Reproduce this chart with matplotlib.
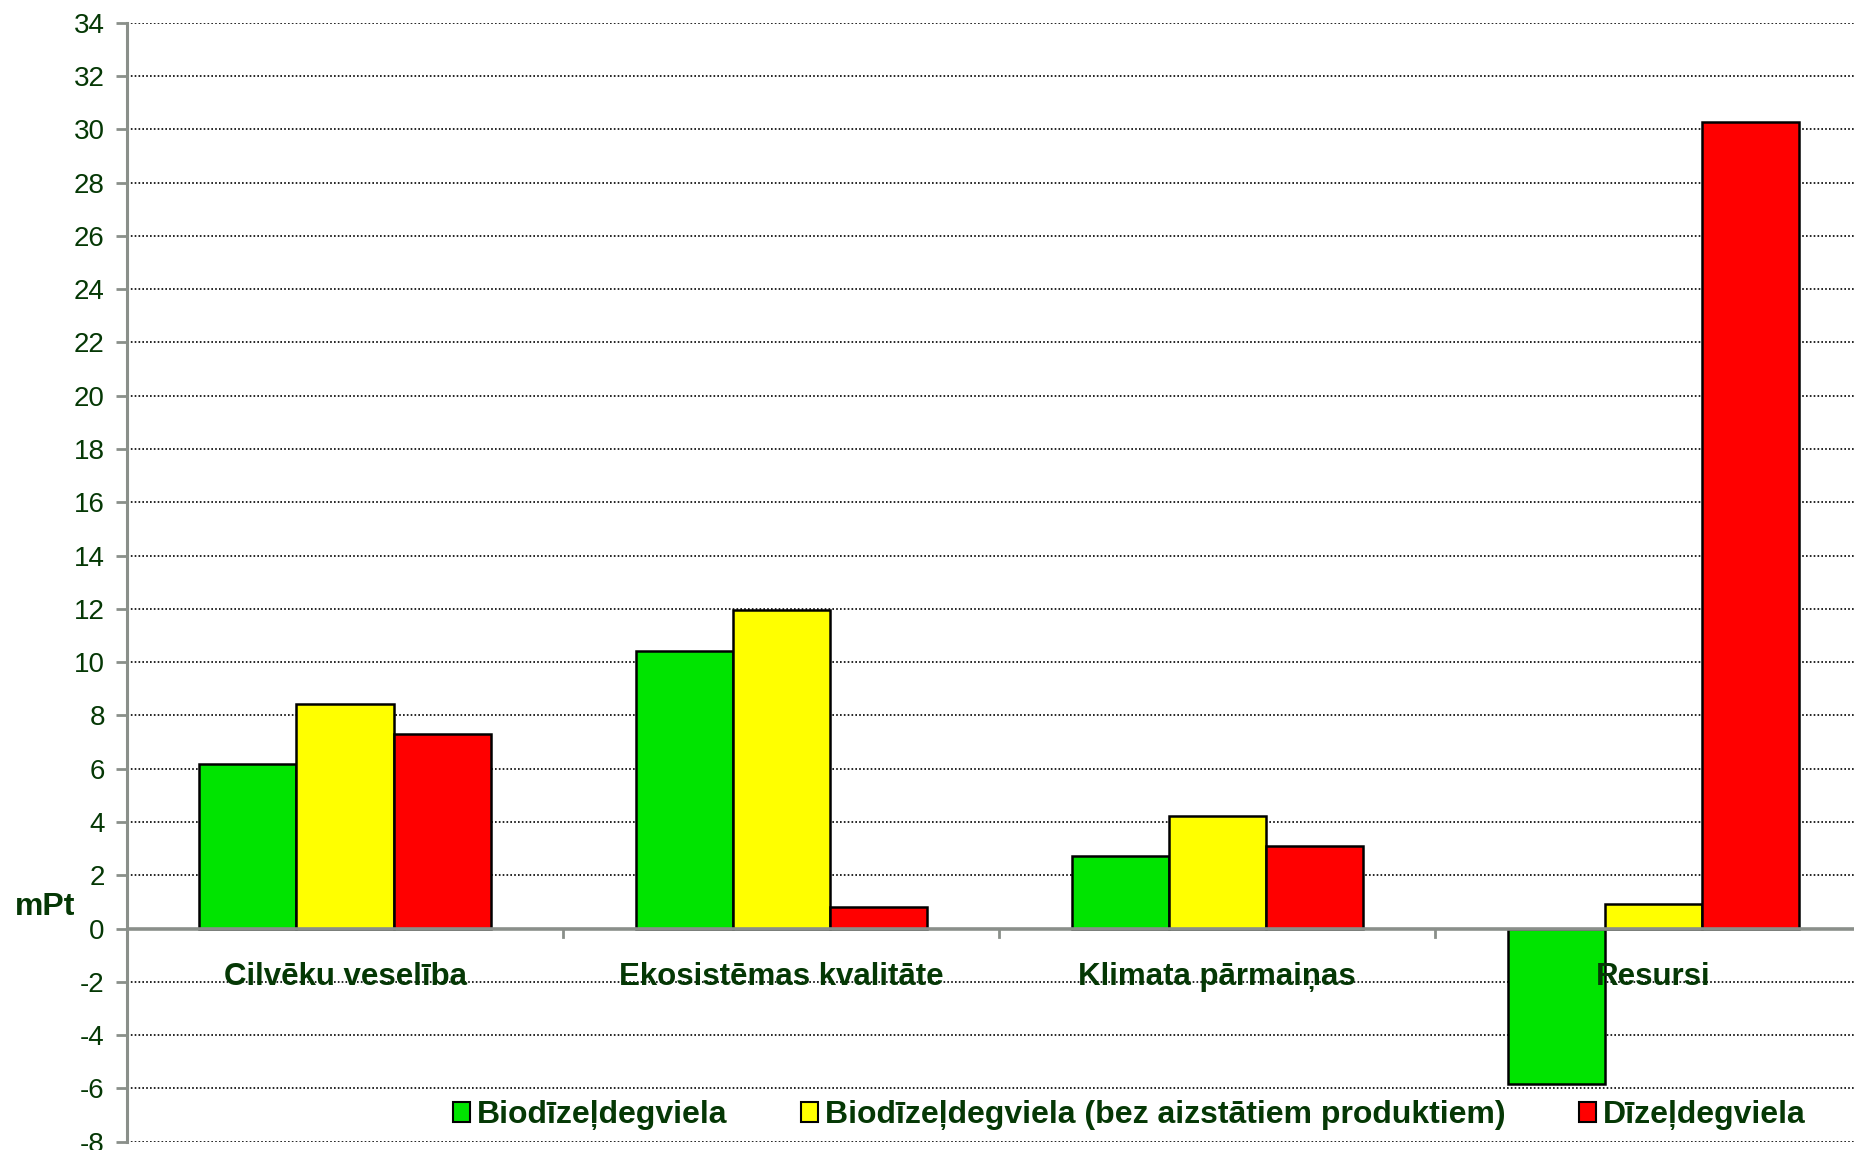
import numpy as np
import matplotlib
matplotlib.use('Agg')
import matplotlib.pyplot as plt
from matplotlib.patches import Patch
from matplotlib import font_manager

# Ietekmes kategorijas un rezultāti (mPt)
categories = ['Cilvēku veselība', 'Ekosistēmas kvalitāte', 'Klimata pārmaiņas', 'Resursi']
series_names = ['Biodīzeļdegviela', 'Biodīzeļdegviela (bez aizstātiem produktiem)', 'Dīzeļdegviela']
biodiesel = [6.19, 10.42, 2.71, -5.84]
biodiesel_no_sub = [8.44, 11.97, 4.21, 0.91]
diesel = [7.29, 0.80, 3.11, 30.28]
yticks = list(range(-8, 35, 2))

colors = ['#00e400', '#ffff00', '#ff0000']
text_color = '#053805'

names = {f.name for f in font_manager.fontManager.ttflist}
base_font = 'Liberation Sans' if 'Liberation Sans' in names else 'DejaVu Sans'
plt.rcParams['font.family'] = [base_font, 'DejaVu Sans']

fig = plt.figure(figsize=(18.54, 11.5), dpi=100)
ax = fig.add_axes([0.0685, 0.0072, 0.9407, 0.973])

x = np.arange(len(categories))
w = 0.2225
for i, (vals, c) in enumerate(zip([biodiesel, biodiesel_no_sub, diesel], colors)):
    ax.bar(x + (i - 1) * w, vals, w, color=c, edgecolor='black', linewidth=1.8, zorder=3)

ax.set_xlim(-0.5, len(categories) - 0.5)
ax.set_ylim(-8, 34)
ax.set_yticks(yticks)
ax.set_yticklabels([str(t) for t in yticks], fontsize=20, color=text_color)
ax.yaxis.grid(True, linestyle=(0, (1, 1.3)), color='black', linewidth=1.2, zorder=0)
ax.tick_params(axis='y', length=8, width=2, color='#8a8f8a', pad=8)

for s in ['top', 'right', 'bottom']:
    ax.spines[s].set_visible(False)
ax.spines['left'].set_color('#8a8f8a')
ax.spines['left'].set_linewidth(2.2)

# nulles līnija ar iedaļām starp kategorijām
ax.axhline(0, color='#8a8f8a', linewidth=2.6, zorder=4)
ax.set_xticks([])
for b in x[:-1] + 0.5:
    ax.plot([b, b], [0, -0.3], color='#8a8f8a', linewidth=2, zorder=4, clip_on=False)

for xi, name in zip(x, categories):
    ax.text(xi, -1.8, name, ha='center', va='center', fontsize=22.5, fontweight='bold',
            color=text_color, zorder=6)

fig.text(0.0245, 0.211, 'mPt', ha='center', va='center', fontsize=23, fontweight='bold',
         color=text_color)

handles = [Patch(facecolor=c, edgecolor='black', linewidth=1.5) for c in colors]
leg = fig.legend(handles, series_names, loc='center', bbox_to_anchor=(0.609, 0.0305), ncol=3,
                 frameon=False, handlelength=0.55, handleheight=0.6, handletextpad=0.2,
                 columnspacing=2.3, prop={'weight': 'bold', 'size': 23})
for t in leg.get_texts():
    t.set_color(text_color)

fig.savefig('out.png', dpi=100)
